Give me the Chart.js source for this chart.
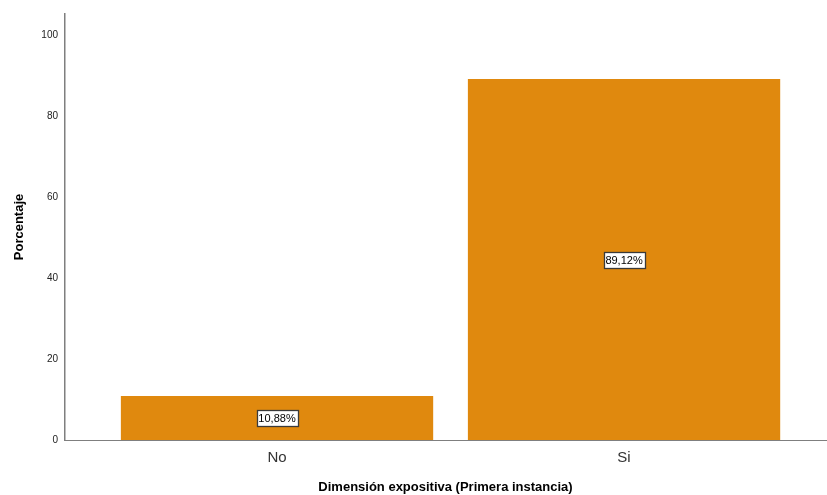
<!DOCTYPE html>
<html>
<head>
<meta charset="utf-8">
<script src="https://cdn.jsdelivr.net/npm/chart.js@4.4.0/dist/chart.umd.min.js"></script>
<style>
  html, body { margin: 0; padding: 0; background: #fff; }
  #wrap { width: 827px; height: 495px; }
</style>
</head>
<body>
<div id="wrap"><canvas id="myChart" width="827" height="495"></canvas></div>
<script>
const categorias = ['No', 'Si'];
const porcentajes = [10.88, 89.12];
const etiquetas = ['10,88%', '89,12%'];
const ticksY = [0, 20, 40, 60, 80, 100];

const colorBarra = 'rgb(224, 137, 14)';
const colorEje = '#7f7f7f';

// etiquetas con recuadro blanco en el centro de cada barra
const cajaEtiquetas = {
    id: 'cajaEtiquetas',
    afterDatasetsDraw(chart) {
        const ctx = chart.ctx;
        const meta = chart.getDatasetMeta(0);
        ctx.save();
        ctx.font = '11px "Liberation Sans", Arial, sans-serif';
        ctx.textAlign = 'center';
        ctx.textBaseline = 'middle';
        meta.data.forEach(function(bar, i) {
            const texto = etiquetas[i];
            const cy = (bar.y + bar.base) / 2;
            const w = Math.round(ctx.measureText(texto).width + 4);
            const h = 16;
            const x0 = Math.round(bar.x - w / 2) + 0.5;
            const y0 = Math.round(cy - h / 2) + 0.5;
            ctx.fillStyle = '#fff';
            ctx.fillRect(x0, y0, w, h);
            ctx.strokeStyle = '#3a3a3a';
            ctx.lineWidth = 1.3;
            ctx.strokeRect(x0, y0, w, h);
            ctx.fillStyle = '#000';
            ctx.fillText(texto, bar.x, cy + 1);
        });
        ctx.restore();
    }
};

const data = {
    datasets: [{
        label: 'Porcentaje',
        backgroundColor: colorBarra,
        borderWidth: 0,
        data: categorias.map(function(c, i) { return { x: i, y: porcentajes[i] }; }),
        categoryPercentage: 1,
        barPercentage: 0.9
    }]
};

const config = {
    type: 'bar',
    data: data,
    options: {
        responsive: false,
        animation: false,
        layout: { padding: { left: 2, right: 1, top: 14, bottom: 0 } },
        plugins: {
            legend: { display: false },
            tooltip: { enabled: false }
        },
        scales: {
            x: {
                type: 'linear',
                min: -0.611,
                max: 1.582,
                offset: false,
                afterBuildTicks: function(axis) {
                    axis.ticks = categorias.map(function(c, i) { return { value: i }; });
                },
                afterFit: function(axis) { axis.height = 55; },
                grid: { display: false, drawTicks: false },
                border: { display: true, color: colorEje, width: 1 },
                ticks: {
                    autoSkip: false,
                    maxRotation: 0,
                    padding: 9,
                    color: '#333',
                    font: { family: '"Liberation Sans", Arial, sans-serif', size: 15 },
                    callback: function(v) { return categorias[v] !== undefined ? categorias[v] : ''; }
                },
                title: {
                    display: true,
                    text: 'Dimensión expositiva (Primera instancia)',
                    color: '#000',
                    font: { family: '"Liberation Sans", Arial, sans-serif', size: 13, weight: 'bold' },
                    padding: { top: 12, bottom: 0 }
                }
            },
            y: {
                min: 0,
                max: 105.2,
                afterBuildTicks: function(axis) {
                    axis.ticks = ticksY.map(function(v) { return { value: v }; });
                },
                afterFit: function(axis) { axis.width = 63; },
                grid: { display: false, drawTicks: false },
                border: { display: true, color: colorEje, width: 1.5 },
                ticks: {
                    padding: 7,
                    color: '#222',
                    font: { family: '"Liberation Sans", Arial, sans-serif', size: 10 }
                },
                title: {
                    display: true,
                    text: 'Porcentaje',
                    color: '#000',
                    font: { family: '"Liberation Sans", Arial, sans-serif', size: 13, weight: 'bold' },
                    padding: { top: 10, bottom: 0 }
                }
            }
        }
    },
    plugins: [cajaEtiquetas]
};

const myChart = new Chart(document.getElementById('myChart'), config);
</script>
</body>
</html>
